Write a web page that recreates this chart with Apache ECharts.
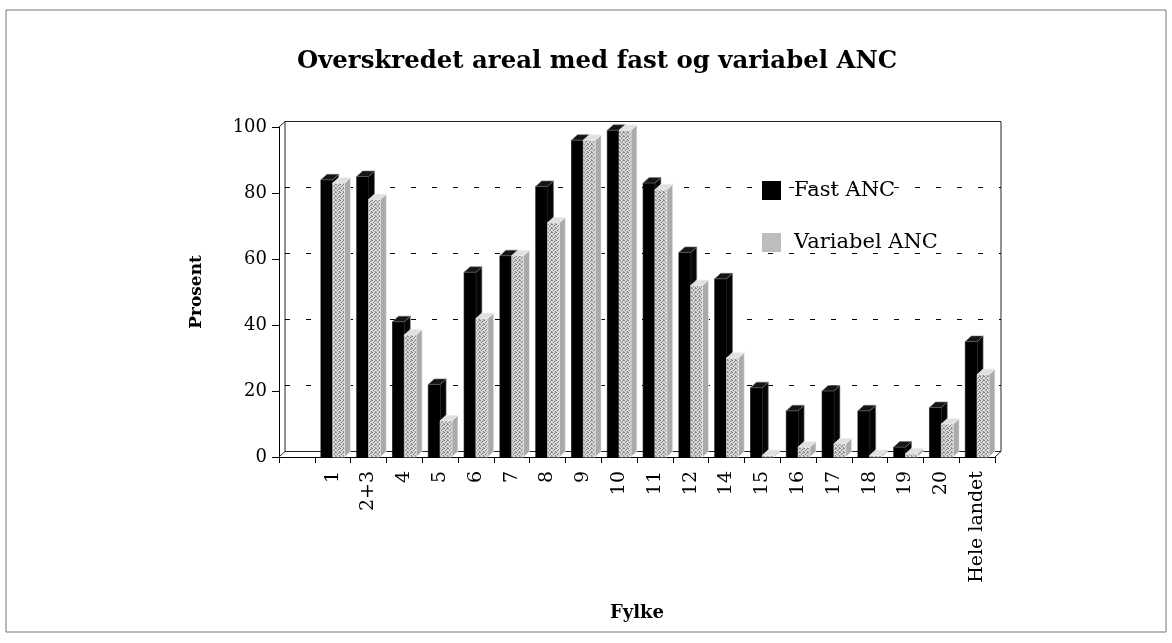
<!DOCTYPE html>
<html>
<head>
<meta charset="utf-8">
<script src="https://cdn.jsdelivr.net/npm/echarts@6/dist/echarts.min.js"></script>
<style>
html,body{margin:0;padding:0;background:#fff;}
#chart{width:1172px;height:643px;}
</style>
</head>
<body>
<div id="chart"></div>
<script>
// ---- data ----
const categories = ['', '1', '2+3', '4', '5', '6', '7', '8', '9', '10', '11', '12', '14', '15', '16', '17', '18', '19', '20', 'Hele landet'];
const fastANC = [null, 84, 85, 41, 22, 56, 61, 82, 96, 99, 83, 62, 54, 21, 14, 20, 14, 3, 15, 35];
const variabelANC = [null, 83, 78, 37, 11, 42, 61, 71, 96, 99, 81, 52, 30, 0.5, 3, 4, 0.5, 1, 10, 25];
const yTicks = [0, 20, 40, 60, 80, 100];

// ---- style helpers ----
const DX = 6, DY = -5.5;
function makePattern() {
  const c = document.createElement('canvas');
  c.width = 4; c.height = 4;
  const ctx = c.getContext('2d');
  ctx.fillStyle = '#d0d0d0'; ctx.fillRect(0, 0, 4, 4);
  ctx.fillStyle = '#858585';
  [[0,0],[2,1],[1,2],[3,3],[3,0]].forEach(p => ctx.fillRect(p[0], p[1], 1, 1));
  ctx.fillStyle = '#ececec';
  [[1,0],[3,2]].forEach(p => ctx.fillRect(p[0], p[1], 1, 1));
  return c;
}
const greyPattern = { image: makePattern(), repeat: 'repeat' };

function barRenderer(side, st) {
  return function (params, api) {
    const idx = api.value(0), v = api.value(1);
    if (isNaN(v)) return;
    const base = api.coord([idx, 0]);
    const top = api.coord([idx, v]);
    const slot = api.size([1, 0])[0];
    const w = slot * 0.33;
    const x = side < 0 ? base[0] - w : base[0];
    const y0 = base[1], y1 = top[1];
    return {
      type: 'group',
      children: [
        { type: 'polygon', shape: { points: [[x + w, y1], [x + w + DX, y1 + DY], [x + w + DX, y0 + DY], [x + w, y0]] },
          style: { fill: st.side, stroke: st.edge, lineWidth: 0.6 } },
        { type: 'rect', shape: { x: x, y: y1, width: w, height: y0 - y1 },
          style: { fill: st.front, stroke: st.frontEdge, lineWidth: 0.6 } },
        { type: 'polygon', shape: { points: [[x, y1], [x + DX, y1 + DY], [x + w + DX, y1 + DY], [x + w, y1]] },
          style: { fill: st.top, stroke: st.edge, lineWidth: 0.6 } }
      ]
    };
  };
}

function frameRenderer(params, api) {
  const cs = params.coordSys;
  const xl = cs.x, xr = cs.x + cs.width;
  const y0 = api.coord([0, 0])[1];
  const ytop = api.coord([0, 100])[1];
  const children = [];
  const line = (a, b) => children.push({ type: 'line',
    shape: { x1: a[0], y1: a[1], x2: b[0], y2: b[1] },
    style: { stroke: '#222', lineWidth: 1 } });
  // back wall
  line([xl + DX, ytop + DY], [xr + DX, ytop + DY]);
  line([xl + DX, ytop + DY], [xl + DX, y0 + DY]);
  line([xr + DX, ytop + DY], [xr + DX, y0 + DY]);
  line([xl + DX, y0 + DY], [xr + DX, y0 + DY]);
  // depth edges
  line([xl, ytop], [xl + DX, ytop + DY]);
  line([xl, y0], [xl + DX, y0 + DY]);
  line([xr, y0], [xr + DX, y0 + DY]);
  // dashed gridlines on back wall
  yTicks.forEach(t => {
    if (t === 0 || t === 100) return;
    const yy = api.coord([0, t])[1] + DY;
    children.push({ type: 'line', shape: { x1: xl + DX, y1: yy, x2: xr + DX, y2: yy },
      style: { stroke: '#000', lineWidth: 1, lineDash: [5, 16] } });
  });
  return { type: 'group', children: children };
}

const chart = echarts.init(document.getElementById('chart'), null, { renderer: 'canvas' });
const serif = 'DejaVu Serif';
chart.setOption({
  backgroundColor: '#fff',
  animation: false,
  title: {
    text: 'Overskredet areal med fast og variabel ANC',
    left: 592, top: 45, textAlign: 'center',
    textStyle: { fontFamily: serif, fontWeight: 'bold', fontSize: 24.4, color: '#000' }
  },
  legend: {
    orient: 'vertical', left: 757, top: 175,
    itemWidth: 19, itemHeight: 19, itemGap: 31,
    selectedMode: false,
    textStyle: { fontFamily: serif, fontSize: 21, color: '#000', lineHeight: 19, padding: [0, 0, 0, 8] },
    data: [
      { name: 'Fast ANC', icon: 'rect', itemStyle: { color: '#000' } },
      { name: 'Variabel ANC', icon: 'rect', itemStyle: { color: '#bdbdbd' } }
    ]
  },
  graphic: [{
    type: 'rect', shape: { x: 6, y: 10, width: 1160, height: 622 },
    style: { fill: null, stroke: '#777', lineWidth: 1 }, silent: true, z: -10
  }],
  grid: { left: 279, right: 177, top: 127, bottom: 186, containLabel: false },
  xAxis: {
    type: 'category', data: categories, boundaryGap: true,
    axisLine: { lineStyle: { color: '#000', width: 1 } },
    axisTick: { show: true, length: 6, lineStyle: { color: '#000' } },
    axisLabel: { rotate: 90, interval: 0, fontFamily: serif, fontSize: 19, color: '#000', margin: 14 },
    name: 'Fylke', nameLocation: 'middle', nameGap: 147,
    nameTextStyle: { fontFamily: serif, fontWeight: 'bold', fontSize: 18, color: '#000' }
  },
  yAxis: {
    type: 'value', min: 0, max: 100, interval: 20,
    axisLine: { show: true, lineStyle: { color: '#000', width: 1 } },
    axisTick: { show: true, length: 7, lineStyle: { color: '#000' } },
    splitLine: { show: false },
    axisLabel: { fontFamily: serif, fontSize: 18, color: '#000', margin: 12 },
    name: 'Prosent', nameLocation: 'middle', nameGap: 74, nameRotate: 90,
    nameTextStyle: { fontFamily: serif, fontWeight: 'bold', fontSize: 17, color: '#000' }
  },
  series: [
    { type: 'custom', name: 'frame', renderItem: frameRenderer, data: [[0, 0]], silent: true, clip: false, z: 1 },
    { type: 'custom', name: 'Fast ANC', clip: false, z: 2,
      itemStyle: { color: '#000' },
      encode: { x: 0, y: 1 },
      renderItem: barRenderer(-1, { front: '#000', side: '#050505', top: '#151515', edge: '#777', frontEdge: '#000' }),
      data: fastANC.map((v, i) => v === null ? null : [i, v]).filter(d => d) },
    { type: 'custom', name: 'Variabel ANC', clip: false, z: 3,
      itemStyle: { color: '#bdbdbd' },
      encode: { x: 0, y: 1 },
      renderItem: barRenderer(1, { front: greyPattern, side: '#aaaaaa', top: '#e0e0e0', edge: '#f4f4f4', frontEdge: '#e8e8e8' }),
      data: variabelANC.map((v, i) => v === null ? null : [i, v]).filter(d => d) }
  ]
});
</script>
</body>
</html>
